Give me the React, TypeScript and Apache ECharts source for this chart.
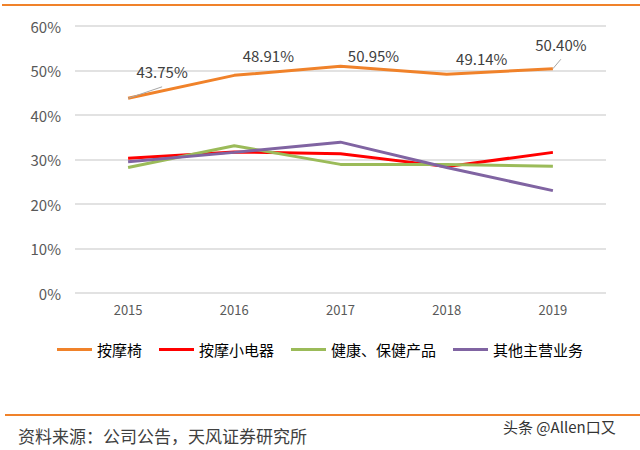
import React, { useEffect, useRef } from "react";
import * as echarts from "echarts";

const years = ["2015", "2016", "2017", "2018", "2019"];
const seriesNames = ["按摩椅", "按摩小电器", "健康、保健产品", "其他主营业务"];
const massageChair = [43.75, 48.91, 50.95, 49.14, 50.4];
const smallAppliances = [30.3, 31.7, 31.3, 28.4, 31.6];
const healthProducts = [28.2, 33.1, 28.9, 28.9, 28.5];
const otherBusiness = [29.5, 31.6, 33.9, 28.2, 23.0];
const colors = ["#F0822A", "#FF0000", "#9BBB59", "#8064A2"];
const labelOffsets = [[34, -11], [34, -4], [33, 5], [35, 0], [8, -9]];

const FONT = "'Noto Sans CJK SC', 'Noto Sans', sans-serif";

export default function App() {
  const ref = useRef<HTMLDivElement>(null);
  useEffect(() => {
    document.body.style.margin = "0";
    const chart = echarts.init(ref.current!, null, { renderer: "svg" });
    const lineData = [massageChair, smallAppliances, healthProducts, otherBusiness];
    chart.setOption({
      animation: false,
      backgroundColor: "#ffffff",
      grid: { left: 75, right: 34, top: 26, bottom: 157 },
      legend: {
        bottom: 88,
        left: "center",
        itemWidth: 35,
        itemHeight: 3,
        itemGap: 17,
        icon: "rect",
        textStyle: { fontFamily: FONT, fontSize: 15, color: "#000" },
        data: seriesNames,
      },
      xAxis: {
        type: "category",
        data: years,
        boundaryGap: true,
        axisLine: { show: false },
        axisTick: { show: false },
        axisLabel: { color: "#595959", fontSize: 13, fontFamily: FONT, margin: 10 },
      },
      yAxis: {
        type: "value",
        min: 0,
        max: 60,
        interval: 10,
        axisLine: { show: false },
        axisTick: { show: false },
        axisLabel: {
          formatter: "{value}%",
          color: "#595959",
          fontSize: 15,
          fontFamily: FONT,
          margin: 14,
        },
        splitLine: { lineStyle: { color: "#d9d9d9", width: 1.5 } },
      },
      series: lineData.map((d, i) => ({
        name: seriesNames[i],
        type: "line",
        data:
          i === 0
            ? d.map((v, j) => ({
                value: v,
                label: { offset: labelOffsets[j] },
                labelLine: { show: j === 0 || j === 4 },
              }))
            : d,
        symbol: "circle",
        symbolSize: 0.01,
        showSymbol: i === 0,
        lineStyle: { color: colors[i], width: 3 },
        itemStyle: { color: colors[i] },
        z: i === 0 ? 5 : 3,
        label:
          i === 0
            ? {
                show: true,
                position: "top",
                distance: 8,
                formatter: (p: any) => Number(p.value).toFixed(2) + "%",
                color: "#404040",
                fontSize: 15,
                fontFamily: FONT,
              }
            : { show: false },
        labelLine: { show: false, lineStyle: { color: "#a6a6a6", width: 1 } },
      })),
      graphic: [
        { type: "line", shape: { x1: 2, y1: 5, x2: 640, y2: 5 }, style: { stroke: "#F0822A", lineWidth: 2 } },
        { type: "line", shape: { x1: 5, y1: 415, x2: 640, y2: 415 }, style: { stroke: "#F0822A", lineWidth: 2 } },
        {
          type: "text",
          left: 18,
          top: 427,
          style: { text: "资料来源：公司公告，天风证券研究所", fontFamily: FONT, fontSize: 17, fill: "#404040" },
        },
        {
          type: "text",
          left: 503,
          top: 419,
          style: { text: "头条 @Allen口又", fontFamily: FONT, fontSize: 15, fill: "#333333" },
        },
      ],
    });
    return () => chart.dispose();
  }, []);
  return <div ref={ref} style={{ position: "absolute", left: 0, top: 0, width: 640, height: 450 }} />;
}
